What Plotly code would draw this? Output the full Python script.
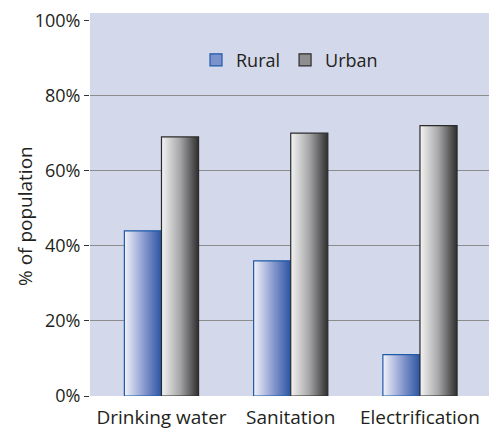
import plotly.graph_objects as go

categories = ['Drinking water', 'Sanitation', 'Electrification']
rural = [44, 36, 11]
urban = [69, 70, 72]
y_ticks = [0, 20, 40, 60, 80, 100]
y_tick_labels = ['0%', '20%', '40%', '60%', '80%', '100%']
grid_vals = [20, 40, 60, 80]

bar_w = 0.287
series = [
    ('Rural', rural, -bar_w / 2, [[0, '#f2f3fa'], [0.55, '#8496cc'], [1, '#2a55a3']], '#1d5aa8', '#7d92cc'),
    ('Urban', urban, bar_w / 2, [[0, '#f4f4f4'], [0.5, '#a6a6a8'], [1, '#2e2e2e']], '#2b2b2b', '#8e8e90'),
]

fig = go.Figure()
for name, values, offset, scale, edge, mid in series:
    for i, v in enumerate(values):
        c = i + offset
        x0, x1 = c - bar_w / 2, c + bar_w / 2
        fig.add_trace(go.Scatter(
            x=[x0, x1, x1, x0, x0], y=[0, 0, v, v, 0],
            mode='lines', fill='toself',
            fillgradient=dict(type='horizontal', colorscale=scale),
            line=dict(color=edge, width=1.2),
            name=name, legendgroup=name, showlegend=False,
            hoverinfo='skip'))
    # legend entry only
    fig.add_trace(go.Bar(x=[None], y=[None], name=name, legendgroup=name,
                         marker=dict(color=mid, line=dict(color=edge, width=1.2))))

fig.update_layout(
    width=496, height=430,
    margin=dict(l=90, r=7, t=13, b=34),
    paper_bgcolor='white', plot_bgcolor='#d3d8ea',
    font=dict(family='Open Sans', size=18, color='#231f20'),
    legend=dict(orientation='h', x=0.5, xanchor='center', y=0.877, yanchor='middle',
                bgcolor='rgba(0,0,0,0)', font=dict(size=18),
                itemwidth=30, tracegroupgap=0, itemclick=False),
    annotations=[dict(text='% of population', textangle=-90, xref='paper', yref='paper',
                      x=0, y=0.47, xshift=-65, xanchor='center', yanchor='middle',
                      showarrow=False, font=dict(size=19))],
)
fig.update_xaxes(range=[-0.553, 2.534], tickmode='array', tickvals=[0, 1, 2], ticktext=categories,
                 showgrid=False, zeroline=False, showline=False, ticks='',
                 ticklabelstandoff=8, tickfont=dict(size=19), automargin=False)
fig.update_yaxes(range=[0, 102], tickmode='array', tickvals=y_ticks, ticktext=y_tick_labels,
                 showgrid=False, zeroline=False,
                 minor=dict(tickmode='array', tickvals=grid_vals, showgrid=True,
                            gridcolor='#8c8c8c', gridwidth=1, ticks=''),
                 ticks='outside', ticklen=5, tickcolor='#333333',
                 tickfont=dict(size=18), automargin=False)

# drop the browser's default page margin so the figure sits at the window origin
fig.write_html('out.html', config={'displayModeBar': False},
               post_script="document.body.style.margin='0';")
